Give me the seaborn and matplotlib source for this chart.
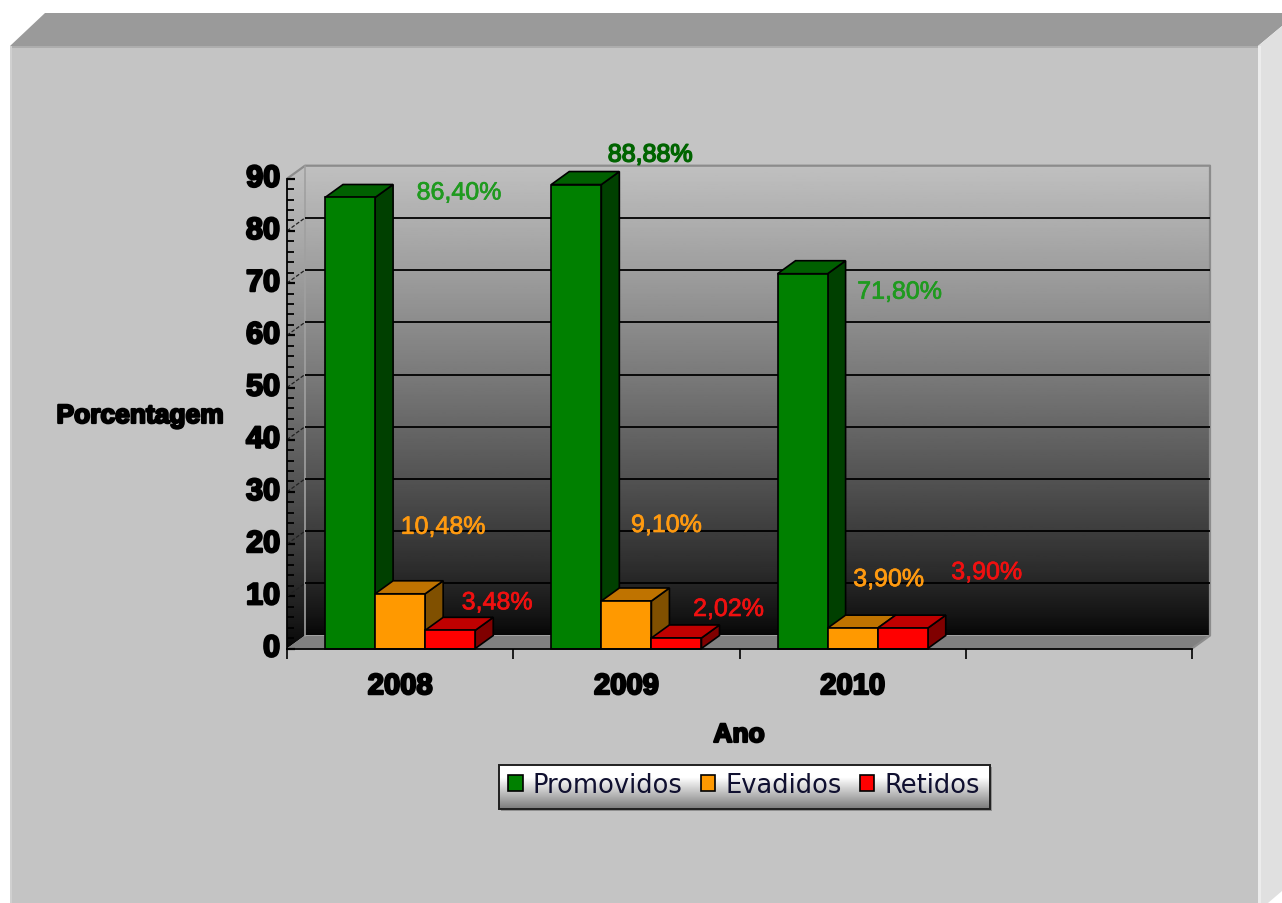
import numpy as np
import pandas as pd
import matplotlib
matplotlib.use('Agg')
import matplotlib.pyplot as plt
import matplotlib.patheffects as pe
import matplotlib.transforms as mtransforms
from matplotlib.patches import Polygon, Rectangle
import seaborn as sns

anos = ['2008', '2009', '2010']
promovidos = [86.40, 88.88, 71.80]
evadidos = [10.48, 9.10, 3.90]
retidos = [3.48, 2.02, 3.90]
y_ticks = [0, 10, 20, 30, 40, 50, 60, 70, 80, 90]

W, H = 1282, 904
# chart box in pixels
LEFT, RIGHT, FLOOR, TOP = 287, 1192, 649.5, 179.7
DEPTH_X, DEPTH_Y = 18, 13

FRONT = {'Promovidos': '#008000', 'Evadidos': '#ff9900', 'Retidos': '#ff0000'}
TOPS = {'Promovidos': '#006000', 'Evadidos': '#bf7300', 'Retidos': '#c00000'}
SIDES = {'Promovidos': '#004000', 'Evadidos': '#805000', 'Retidos': '#800000'}
TEXT_COLORS = {'Promovidos': '#1f9a1f', 'Evadidos': '#ff9a10', 'Retidos': '#f01010'}

# label offset from the top centre of each bar, pixels
LABEL_OFFSETS = {
    'Promovidos': [(109, 5), (74, 30), (97, -18)],
    'Evadidos': [(43, 67), (40, 76), (36, 49)],
    'Retidos': [(47, 28), (52, 29), (84, 56)],
}

sns.set_theme(style='white')
plt.rcParams['font.family'] = ['Liberation Sans', 'DejaVu Sans']

fig = plt.figure(figsize=(W / 100, H / 100), dpi=100, facecolor='white')

# panel drawn in pixel coordinates
bg = fig.add_axes([0, 0, 1, 1], zorder=0)
bg.axis('off')
bg.add_patch(Polygon([(10, 47), (45, 14), (1282, 14), (1282, 27), (1258, 47)], fc='#9a9a9a', ec='none'))
bg.add_patch(Polygon([(1258, 47), (1282, 27), (1282, 892), (1268, 904), (1258, 904)], fc='#e0e0e0', ec='none'))
bg.add_patch(Rectangle((10, 47), 1248, 857, fc='#c4c4c4', ec='none'))
bg.add_patch(Rectangle((10, 47), 1248, 2, fc='#adadad', ec='none'))
bg.add_patch(Rectangle((10, 47), 2, 857, fc='#d0d0d0', ec='none'))
bg.add_patch(Rectangle((1258, 47), 3, 857, fc='#ececec', ec='none'))

wall_x0, wall_x1 = LEFT + DEPTH_X, RIGHT + DEPTH_X
wall_top, wall_bottom = TOP - DEPTH_Y, FLOOR - DEPTH_Y
t = np.linspace(1, 0, 256)[:, None]
wall_shade = 186 * t ** 0.8 + 6
bg.imshow(wall_shade, cmap='gray', vmin=0, vmax=255, aspect='auto',
          extent=(wall_x0, wall_x1, wall_bottom, wall_top), zorder=2)
side_im = bg.imshow(wall_shade, cmap='gray', vmin=0, vmax=255, aspect='auto',
                    extent=(LEFT, wall_x0, FLOOR, wall_top), zorder=2)
side_clip = Polygon([(LEFT, FLOOR), (wall_x0, wall_bottom), (wall_x0, wall_top), (LEFT, TOP)],
                    transform=bg.transData)
side_im.set_clip_path(side_clip)
bg.add_patch(Polygon([(LEFT, FLOOR), (wall_x0, wall_bottom), (wall_x1, wall_bottom), (RIGHT, FLOOR)],
                     fc='#808080', ec='none', zorder=2))
bg.plot([LEFT, wall_x0, wall_x1, wall_x1, RIGHT], [TOP, wall_top, wall_top, wall_bottom, FLOOR],
        color='#8c8c8c', lw=1.6, zorder=3)
bg.plot([wall_x0, wall_x0], [wall_top, wall_bottom], color='#a0a0a0', lw=1.2, zorder=3)

# legend box
bg.add_patch(Rectangle((501, 768), 491, 44, fc='#8f8f8f', ec='none', zorder=2))
legend_shade = np.concatenate([np.full(12, 255.0), np.linspace(255, 125, 32)])[:, None]
bg.imshow(legend_shade, cmap='gray', vmin=0, vmax=255, aspect='auto',
          extent=(499, 990, 810, 766), zorder=3)
bg.add_patch(Rectangle((499, 766), 491, 44, fc='none', ec='#202020', lw=1.4, zorder=4))
bg.set_xlim(0, W)
bg.set_ylim(H, 0)

# main chart
ax = fig.add_axes([LEFT / W, 1 - FLOOR / H, (RIGHT - LEFT) / W, (FLOOR - TOP) / H], zorder=1)
ax.patch.set_alpha(0)

df = pd.DataFrame({
    'Ano': anos * 3,
    'Porcentagem': promovidos + evadidos + retidos,
    'Serie': ['Promovidos'] * 3 + ['Evadidos'] * 3 + ['Retidos'] * 3,
})
sns.barplot(data=df, x='Ano', y='Porcentagem', hue='Serie', order=anos + [''],
            hue_order=list(FRONT), palette=FRONT, width=0.664, gap=0, saturation=1,
            edgecolor='black', linewidth=1.2, ax=ax)
ax.set_xlim(-0.5, 3.5)
ax.set_ylim(0, 90)

dx = DEPTH_X * 4 / (RIGHT - LEFT)
dy = DEPTH_Y * 90 / (FLOOR - TOP)

# back wall grid and the short diagonals on the left wall
ax.hlines([v + dy for v in y_ticks[1:-1]], -0.5 + dx, 3.5 + dx, color='black', lw=1.3, zorder=1, clip_on=False)
for v in y_ticks[1:-1]:
    ax.plot([-0.5, -0.5 + dx], [v, v + dy], color='#202020', lw=0.9, ls=(0, (3, 1.5)), zorder=1, clip_on=False)

# 3d faces of the bars
for container, name in zip(ax.containers, FRONT):
    for i, bar in enumerate(container):
        x0, x1 = bar.get_x(), bar.get_x() + bar.get_width()
        h = bar.get_height()
        z = 2 + i * 3 + list(FRONT).index(name) * 0.3
        ax.add_patch(Polygon([(x1, 0), (x1 + dx, dy), (x1 + dx, h + dy), (x1, h)], fc=SIDES[name],
                             ec='black', lw=1.2, zorder=z, clip_on=False))
        ax.add_patch(Polygon([(x0, h), (x0 + dx, h + dy), (x1 + dx, h + dy), (x1, h)], fc=TOPS[name],
                             ec='black', lw=1.2, zorder=z, clip_on=False))
        bar.set_zorder(z + 0.1)
        bar.set_clip_on(False)

        off = LABEL_OFFSETS[name][i]
        label = f'{h:.2f}%'.replace('.', ',')
        dark = name == 'Promovidos' and i == 1
        ax.annotate(label, xy=((x0 + x1) / 2, h), xytext=(off[0] * 0.72, off[1] * 0.72),
                    textcoords='offset points', ha='center', va='center', fontsize=18,
                    color='#006400' if dark else TEXT_COLORS[name], zorder=30, annotation_clip=False,
                    path_effects=[pe.withStroke(linewidth=1.1 if dark else 0.5,
                                                foreground='#006400' if dark else TEXT_COLORS[name])])

# axes
for side in ['top', 'right']:
    ax.spines[side].set_visible(False)
for side in ['left', 'bottom']:
    ax.spines[side].set_color('black')
    ax.spines[side].set_linewidth(1.3)
    ax.spines[side].set_zorder(25)

bold = [pe.withStroke(linewidth=1.6, foreground='black')]
ax.set_xticks(range(4))
ax.set_xticklabels(anos + [''], fontsize=21, fontweight='bold', color='black', path_effects=bold)
ax.set_xticks([-0.5, 0.5, 1.5, 2.5, 3.5], minor=True)
ax.tick_params(axis='x', which='major', length=0, pad=17, colors='black')
ax.tick_params(axis='x', which='minor', length=7, width=1.2, color='black', bottom=True)

ax.set_yticks(y_ticks)
ax.set_yticklabels(y_ticks, fontsize=22, fontweight='bold', color='black', path_effects=bold)
ax.set_yticks(np.arange(0, 91, 2), minor=True)
ax.tick_params(axis='y', which='major', direction='in', length=6, width=1.6, pad=5, colors='black', left=True)
ax.tick_params(axis='y', which='minor', direction='in', length=5, width=1.3, color='black', left=True)
shift = mtransforms.ScaledTranslation(0, 2.5 / 72, fig.dpi_scale_trans)
for tick in ax.yaxis.get_major_ticks():
    tick.label1.set_transform(tick.label1.get_transform() + shift)

ax.set_xlabel('Ano', fontsize=19, fontweight='bold', color='black', path_effects=bold)
ax.xaxis.set_label_coords((739 - LEFT) / (RIGHT - LEFT), (FLOOR - 736) / (FLOOR - TOP), transform=ax.transAxes)
ax.xaxis.label.set_va('center')
ax.set_ylabel('Porcentagem', fontsize=19, fontweight='bold', color='black', rotation=0, ha='center', va='center',
              path_effects=bold)
ax.yaxis.set_label_coords((140 - LEFT) / (RIGHT - LEFT), (FLOOR - 417) / (FLOOR - TOP), transform=ax.transAxes)

sns.move_legend(ax, 'center left', bbox_to_anchor=((508 - LEFT) / (RIGHT - LEFT), (FLOOR - 786) / (FLOOR - TOP)),
                ncol=3, frameon=False, title=None, fontsize=18.5, borderpad=0, borderaxespad=0,
                handlelength=0.58, handleheight=0.6, handletextpad=0.38, columnspacing=0.7)
for text in ax.get_legend().get_texts():
    text.set_family('DejaVu Sans')
    text.set_color('#101030')
for handle in ax.get_legend().legend_handles:
    handle.set_edgecolor('black')
    handle.set_linewidth(1.2)
ax.get_legend().set_zorder(40)

fig.savefig('out.png', dpi=100, facecolor='white')
